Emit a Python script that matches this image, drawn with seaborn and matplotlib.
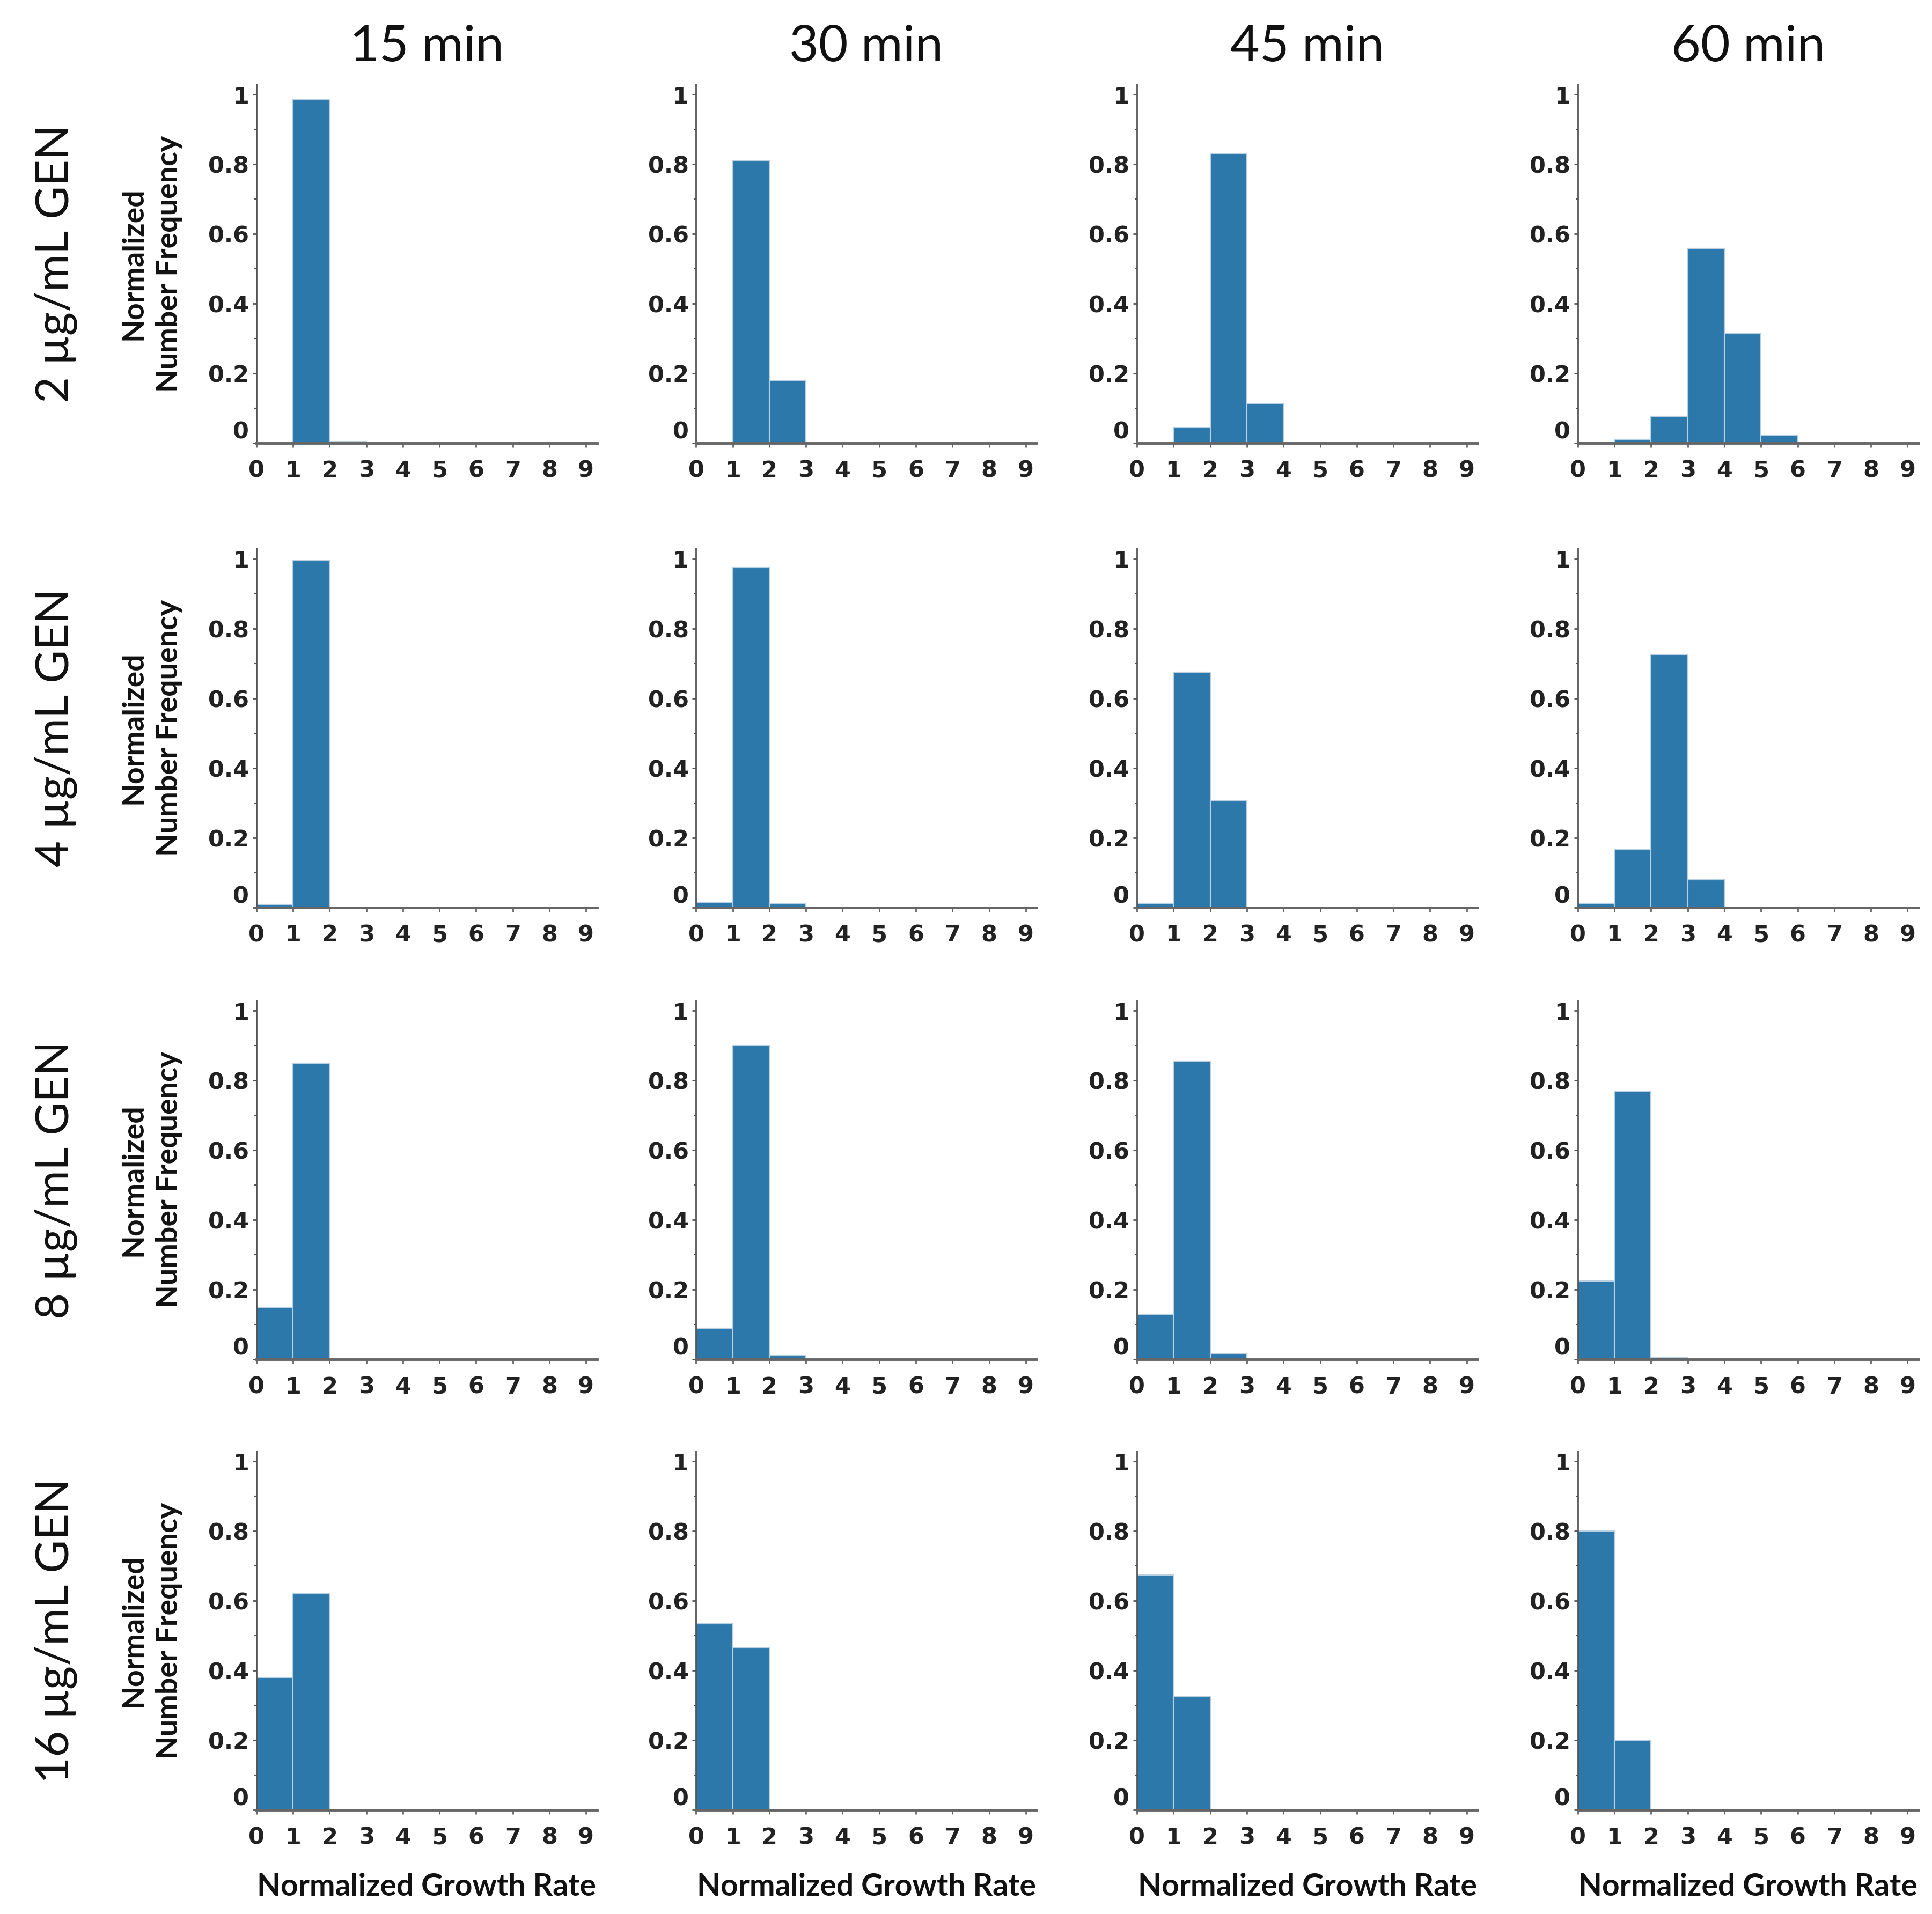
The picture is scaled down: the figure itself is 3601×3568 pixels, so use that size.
import numpy as np
import pandas as pd
import matplotlib
matplotlib.use("Agg")
import matplotlib.pyplot as plt
import matplotlib.transforms as mtransforms
from matplotlib.ticker import MultipleLocator
import seaborn as sns

# column / row headers
times = ["15 min", "30 min", "45 min", "60 min"]
doses = ["2 µg/mL GEN", "4 µg/mL GEN", "8 µg/mL GEN", "16 µg/mL GEN"]

# histogram bins of normalized growth rate
bin_edges = [0, 1, 2, 3, 4, 5, 6, 7, 8, 9, 10]
bin_mids = [0.5, 1.5, 2.5, 3.5, 4.5, 5.5, 6.5, 7.5, 8.5, 9.5]

# normalized frequency per bin (starting at bin 0-1), one list per time point
freq_2ug = [
    [0.0, 0.985, 0.004],
    [0.0, 0.81, 0.18],
    [0.0, 0.045, 0.83, 0.115],
    [0.002, 0.011, 0.078, 0.559, 0.315, 0.023],
]
freq_4ug = [
    [0.008, 0.995],
    [0.015, 0.975, 0.01],
    [0.012, 0.675, 0.305],
    [0.012, 0.165, 0.725, 0.08],
]
freq_8ug = [
    [0.15, 0.85],
    [0.09, 0.90, 0.01],
    [0.13, 0.855, 0.015],
    [0.225, 0.77, 0.004],
]
freq_16ug = [
    [0.38, 0.62],
    [0.535, 0.465],
    [0.675, 0.325],
    [0.80, 0.20],
]
all_freq = [freq_2ug, freq_4ug, freq_8ug, freq_16ug]

sns.set_theme(style="ticks")
plt.rcParams["font.family"] = ["Lato", "DejaVu Sans"]

BAR = "#2d78ab"
EDGE = "#b9cfe2"

fig = plt.figure(figsize=(36.01, 35.68), dpi=100)

lefts = [0.1327, 0.3603, 0.5885, 0.8167]
bottoms = [0.7684, 0.5259, 0.2898, 0.0543]
w, h = 0.1763, 0.1876

for r in range(4):
    for c in range(4):
        ax = fig.add_axes([lefts[c], bottoms[r], w, h])
        f = all_freq[r][c]
        df = pd.DataFrame({"rate": bin_mids[:len(f)], "freq": f})
        sns.histplot(data=df, x="rate", weights="freq", bins=bin_edges, ax=ax,
                     color=BAR, edgecolor=EDGE, linewidth=1.5, alpha=1)
        ax.set_xlim(0, 9.3)
        ax.set_ylim(0, 1.03)
        ax.set_xticks(range(10), labels=[str(i) for i in range(10)],
                      fontsize=31, fontweight="bold", family="DejaVu Sans", color="#222222")
        ax.set_yticks([0, 0.2, 0.4, 0.6, 0.8, 1],
                      labels=["0", "0.2", "0.4", "0.6", "0.8", "1"],
                      fontsize=31, fontweight="bold", family="DejaVu Sans", color="#222222")
        ax.yaxis.set_minor_locator(MultipleLocator(0.1))
        sns.despine(ax=ax)
        ax.spines["left"].set_color("#555555")
        ax.spines["left"].set_linewidth(2)
        ax.spines["bottom"].set_color("#666666")
        ax.spines["bottom"].set_linewidth(3.5)
        ax.tick_params(axis="x", length=6, width=2, pad=16, color="#666666")
        ax.tick_params(axis="y", which="major", length=5, width=2, pad=5, color="#555555")
        ax.tick_params(axis="y", which="minor", length=3, width=1.5, color="#555555")

        # the zero label sits a little above the baseline
        zero = ax.get_yticklabels()[0]
        zero.set_transform(zero.get_transform() +
                           mtransforms.ScaledTranslation(0, 18 / 72, fig.dpi_scale_trans))

        if c == 0:
            ax.set_ylabel("Normalized\nNumber Frequency", fontsize=40, fontweight="bold",
                          linespacing=1.4, color="#111111")
            ax.yaxis.label.set_va("center")
            ax.yaxis.set_label_coords(-0.309, 0.5)
        else:
            ax.set_ylabel("")
        if r == 3:
            ax.set_xlabel("Normalized Growth Rate", fontsize=41, fontweight="bold",
                          color="#111111")
            ax.xaxis.set_label_coords(0.5, -0.175)
        else:
            ax.set_xlabel("")

        if r == 0:
            fig.text(lefts[c] + w / 2, 0.9754, times[c], fontsize=68,
                     ha="center", va="center", color="#111111")
    fig.text(0.0288, bottoms[r] + h / 2, doses[r], fontsize=61, rotation=90,
             ha="center", va="center", color="#111111")

fig.savefig("out.png", dpi=100, facecolor="white")
